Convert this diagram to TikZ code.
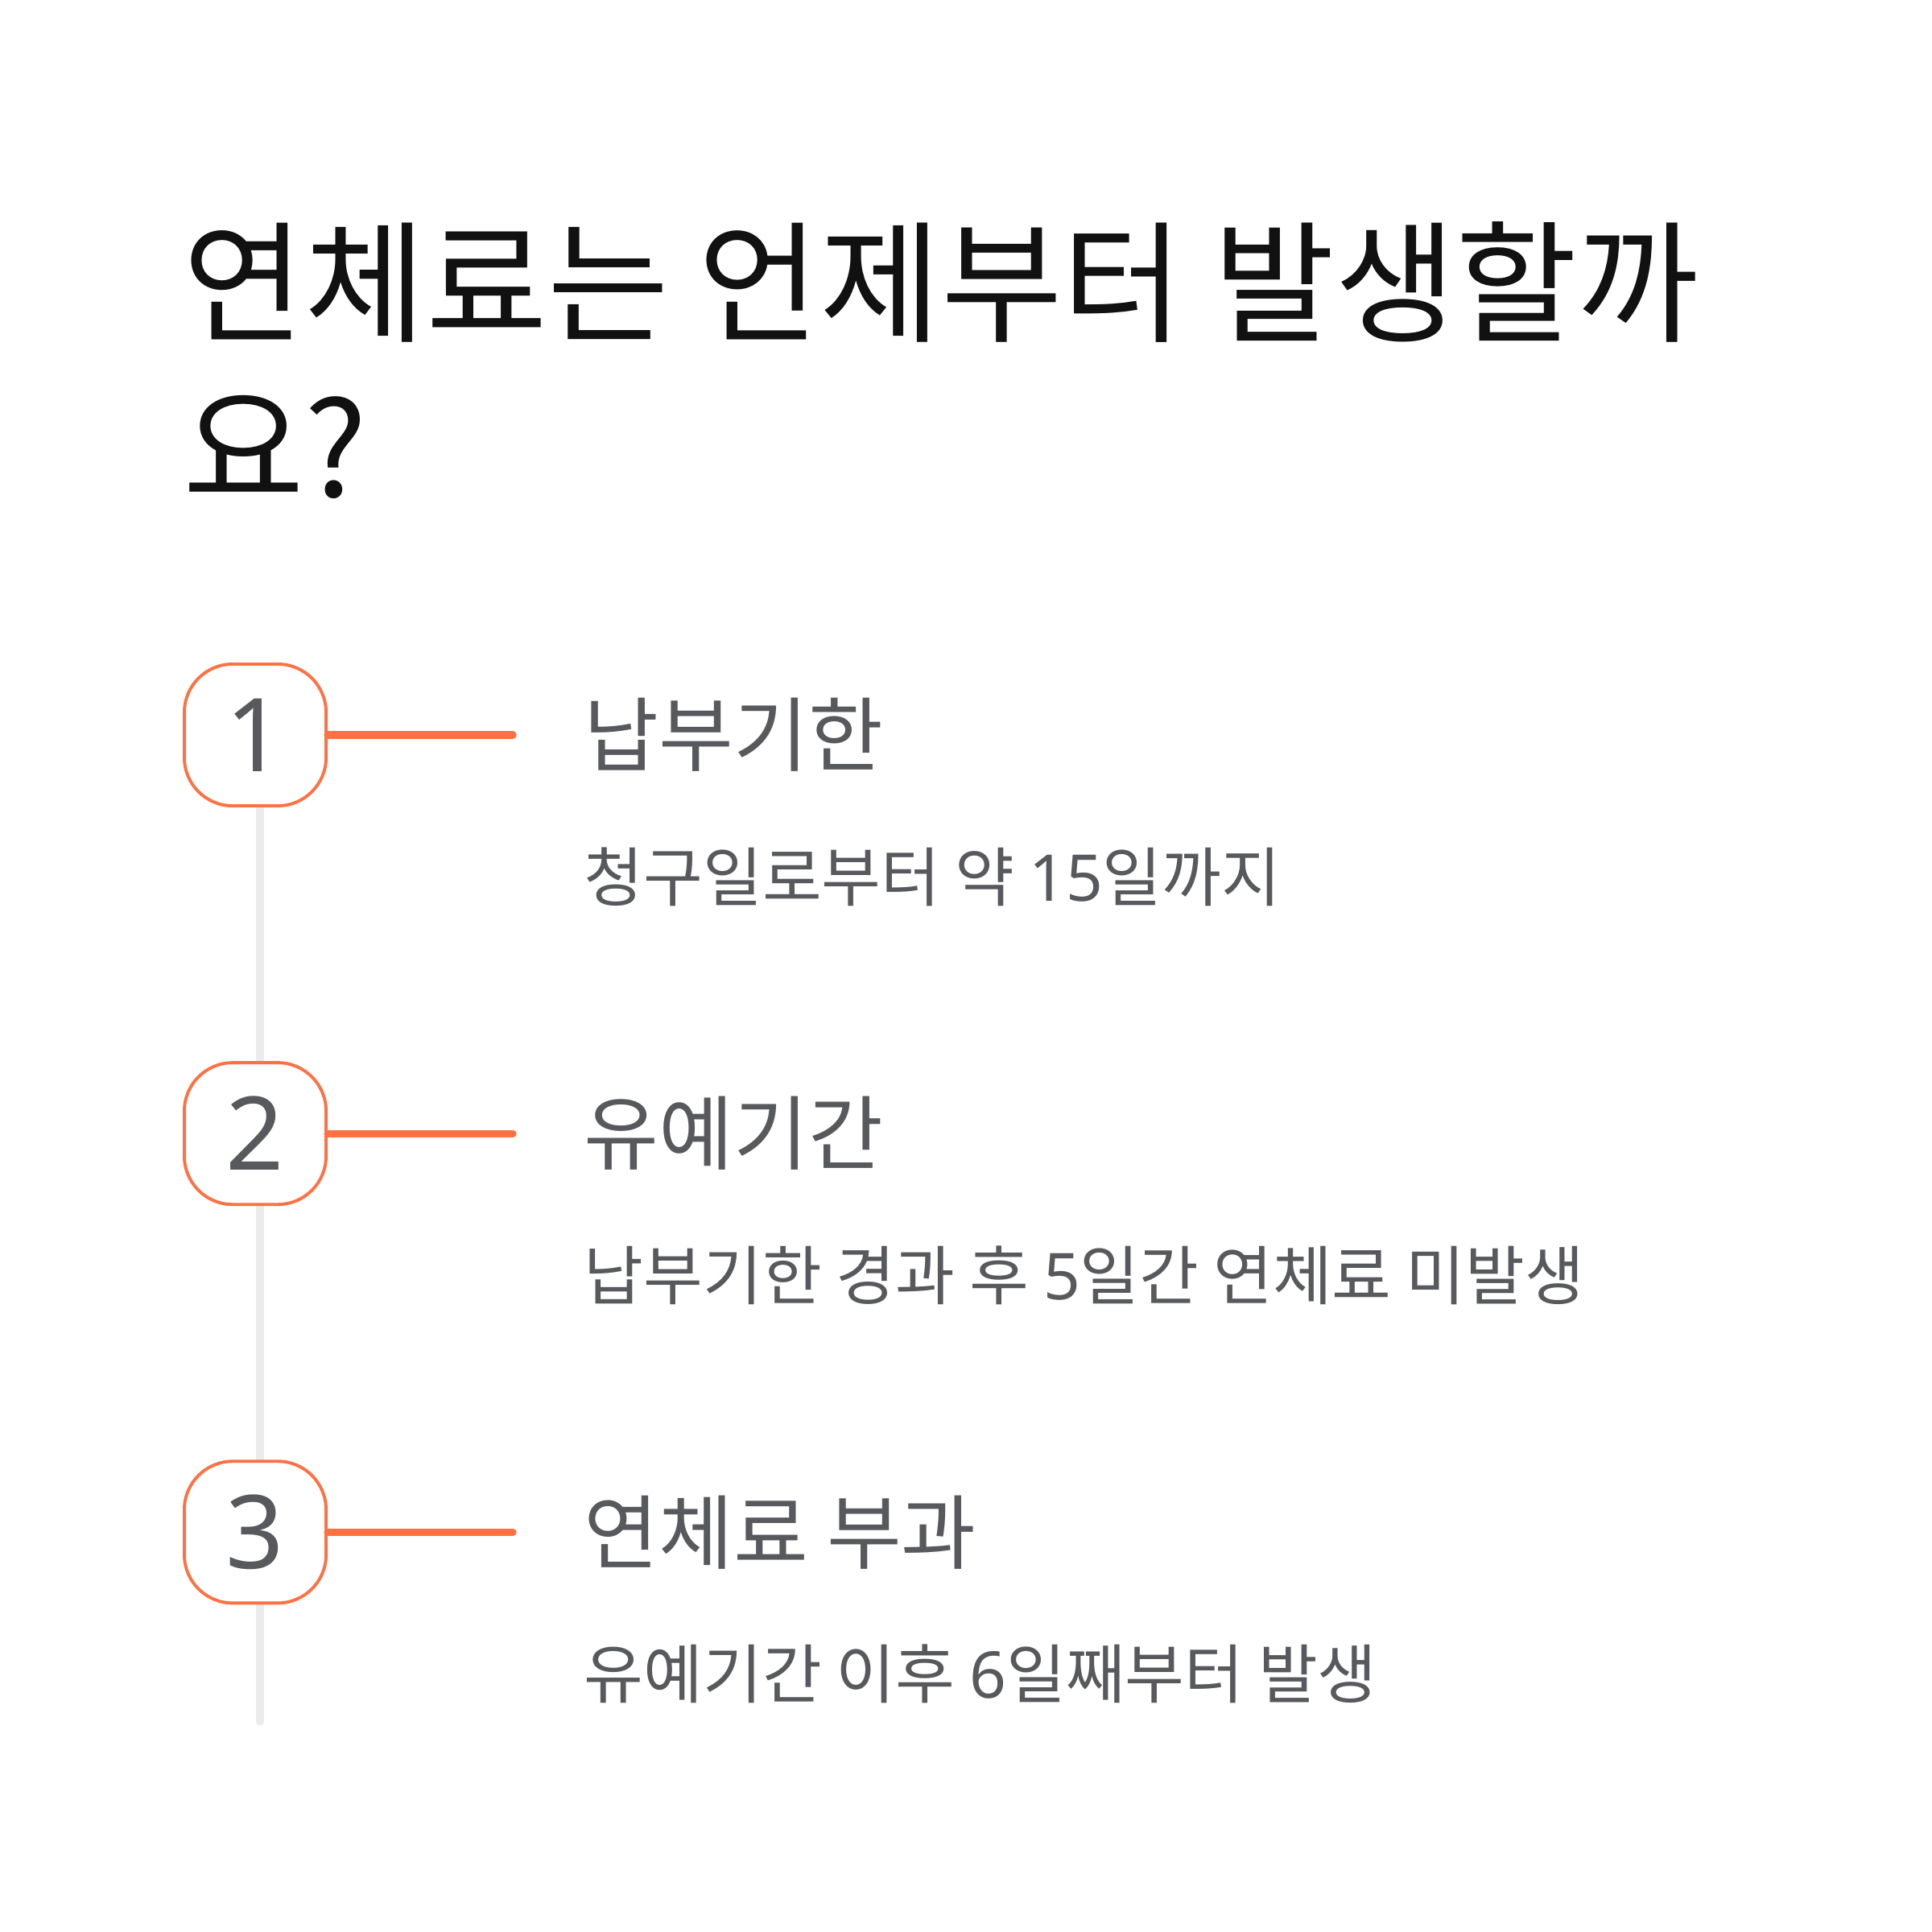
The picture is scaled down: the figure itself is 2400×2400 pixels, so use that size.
\documentclass[tikz,border=0pt]{standalone}
\usepackage{fontspec}
\setmainfont{Noto Sans CJK KR}
\newfontfamily\numfont{Noto Sans}
\usepackage{xcolor}
\usetikzlibrary{positioning, backgrounds}
\definecolor{inkblack}{HTML}{111111}
\definecolor{slategray}{HTML}{58595D}
\definecolor{coral}{HTML}{FF7043}
\definecolor{railgray}{HTML}{EBEBEB}

\begin{document}
\begin{tikzpicture}[x=0.01cm, y=-0.01cm, node distance=3.15cm and 2.3cm,
  stepbox/.style={draw=coral, line width=1.1pt, fill=white, rounded corners=0.6cm,
                  minimum size=1.76cm, inner sep=0pt, text=slategray,
                  font=\numfont\fontsize{36}{36}\selectfont},
  head/.style={anchor=west, inner sep=0pt, text=slategray,
               font=\fontsize{28.7}{32}\selectfont},
  note/.style={anchor=west, inner sep=0pt, text=slategray,
               font=\fontsize{22.8}{26}\selectfont},
  link/.style={draw=coral, line width=2.6pt, line cap=round},
  rail/.style={draw=railgray, line width=2.8pt, line cap=round},
]
\useasboundingbox (0,0) rectangle (2400,2400);

% Title
\node[anchor=base west, inner sep=0pt, align=left, text=inkblack,
      font=\fontsize{46.6}{58.2}\selectfont] (title) at (227,617)
     {연체료는 언제부터 발생할까\\요?};

% Steps
\node[stepbox] (s1) at (317,913) {1};
\node[stepbox, below=of s1] (s2) {2};
\node[stepbox, below=of s2] (s3) {3};

% Connector ends
\coordinate[right=of s1] (e1);
\coordinate[right=of s2] (e2);
\coordinate[right=of s3] (e3);

% Headings
\node[head, right=0.88cm of e1] (h1) {납부기한};
\node[head, right=0.88cm of e2] (h2) {유예기간};
\node[head, right=0.88cm of e3] (h3) {연체료 부과};

% Notes
\node[note] (n1) at ([yshift=-1.76cm]h1.west) {청구일로부터 약 {\numfont 15}일까지};
\node[note] (n2) at ([yshift=-1.76cm]h2.west) {납부기한 경과 후 {\numfont 5}일간 연체료 미발생};
\node[note] (n3) at ([yshift=-1.76cm]h3.west) {유예기간 이후 {\numfont 6}일째부터 발생};

% Links
\draw[link] (s1) -- (e1);
\draw[link] (s2) -- (e2);
\draw[link] (s3) -- (e3);

% Rail behind the boxes
\coordinate (railend) at ([xshift=0.06cm, yshift=-2.35cm]s3.center);
\begin{scope}[on background layer]
  \fill[white] (0,0) rectangle (2400,2400);
  \draw[rail] ([xshift=0.06cm]s1.center) -- (railend);
\end{scope}

\end{tikzpicture}
\end{document}
